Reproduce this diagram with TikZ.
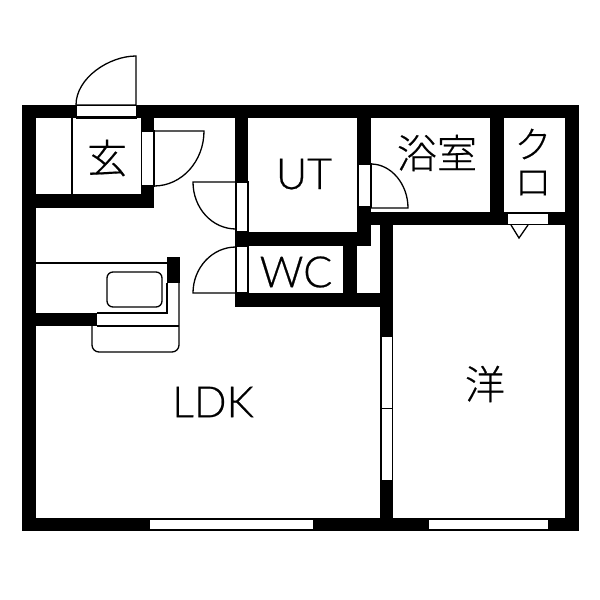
\documentclass[tikz,border=0pt]{standalone}
\usepackage{fontspec}
\setmainfont{Lato Light}[RawFeature={embolden=0.5}]
\newfontfamily\cjkfont{Noto Sans CJK JP Light}[RawFeature={embolden=0.4}]
\begin{document}
\begin{tikzpicture}[
    x=1pt,
    y=-1pt,
    wall/.style={
        fill=black
    },
    opening/.style={
        fill=white,
        draw=black,
        line width=0.8pt
    },
    doorbox/.style={
        fill=white,
        draw=black,
        line width=1.3pt
    },
    thinline/.style={
        draw=black,
        line width=1.3pt
    },
    latinlabel/.style={
        font=\fontsize{43}{43}\selectfont,
        inner sep=0pt
    },
    kanjilabel/.style={
        font=\cjkfont\fontsize{40}{40}\selectfont,
        inner sep=0pt
    }
]

\useasboundingbox (0,0) rectangle (600,600);

% Muri esterni
\fill[wall] (22,105) rectangle (579,118);
\fill[wall] (22,105) rectangle (36,531);
\fill[wall] (565,105) rectangle (579,531);
\fill[wall] (22,518) rectangle (579,531);

% Muri interni
\fill[wall] (36,194) rectangle (154,208);
\fill[wall] (141,118) rectangle (154,208);
\fill[wall] (235,118) rectangle (248,182);
\fill[wall] (235,232) rectangle (371,246);
\fill[wall] (235,293) rectangle (393,307);
\fill[wall] (357,118) rectangle (371,164);
\fill[wall] (357,207) rectangle (371,246);
\fill[wall] (343,246) rectangle (357,293);
\fill[wall] (357,212) rectangle (565,225);
\fill[wall] (380,225) rectangle (393,518);
\fill[wall] (490,118) rectangle (504,212);
\fill[wall] (36,313) rectangle (97,326);
\fill[wall] (167,257) rectangle (180,283);

% Aperture
\draw[opening] (76,105) rectangle (136,118);
\draw[doorbox] (141.5,131) rectangle (154,186);
\draw[doorbox] (236,182) rectangle (248,232);
\draw[doorbox] (236,246) rectangle (248,293);
\draw[doorbox] (358,164) rectangle (371,207);
\draw[opening] (507,213) rectangle (548,224);
\draw[opening] (381,336) rectangle (392,408);
\draw[opening] (381,408) rectangle (392,480);
\draw[opening] (149,519) rectangle (313,529);
\draw[opening] (428,519) rectangle (548,529);

% Porte
\draw[thinline] (76,105) .. controls (76,78) and (109,56) .. (136,56) -- (136,105) -- (76,105);
\draw[thinline] (72,118) -- (72,194);
\draw[thinline] (76,117) -- (136,117);
\draw[thinline] (154,186) .. controls (182,186) and (204,161) .. (204,131) -- (154,131) -- (154,186);
\draw[thinline] (236,229) .. controls (212,229) and (193,208) .. (193,182) -- (236,182);
\draw[thinline] (236,247) .. controls (212,247) and (193,268) .. (193,293) -- (236,293);
\draw[thinline] (371,164) .. controls (391,164) and (408,184) .. (408,208) -- (371,208) -- (371,164);

% Cucina
\draw[thinline] (36,263) -- (167,263);
\draw[thinline] (167,283) -- (167,313) -- (97,313);
\draw[thinline] (97,326) -- (179,326);
\draw[thinline, rounded corners=7pt] (92,326) -- (92,352) -- (179,352) -- (179,283);
\draw[thinline, rounded corners=6pt] (107,272) rectangle (162,307);

% Armadio
\draw[thinline] (511,225) -- (519,238) -- (528,225);

% Etichette
\node[kanjilabel] (genkan) at (107,158) {玄};
\node[latinlabel] (ut) at (304,174) {UT};
\node[kanjilabel] (bath) at (437,153) {浴室};
\node[kanjilabel, font=\cjkfont\fontsize{37}{37}\selectfont] (closetA) at (533,144) {ク};
\node[kanjilabel, font=\cjkfont\fontsize{37}{37}\selectfont] (closetB) at (533,183) {ロ};
\node[latinlabel] (wc) at (296,272) {WC};
\node[latinlabel] (ldk) at (213,402) {LDK};
\node[kanjilabel] (western) at (485,384) {洋};

\end{tikzpicture}
\end{document}
